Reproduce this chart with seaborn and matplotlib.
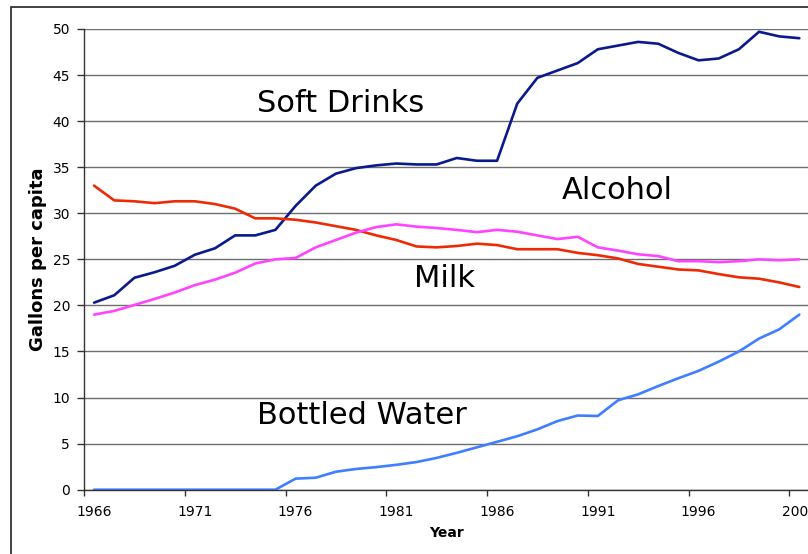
import matplotlib
matplotlib.use("Agg")
import matplotlib.pyplot as plt
from matplotlib.patches import Rectangle
import numpy as np
import pandas as pd
import seaborn as sns

# Per capita consumption, 1966-2001 (gallons)
years = list(range(1966, 2002))
soft_drinks = [20.3, 21.1, 23.0, 23.6, 24.3, 25.5, 26.2, 27.6, 27.6, 28.2,
               30.8, 33.0, 34.3, 34.9, 35.2, 35.4, 35.3, 35.3, 36.0, 35.7,
               35.7, 41.9, 44.7, 45.5, 46.3, 47.8, 48.2, 48.6, 48.4, 47.4,
               46.6, 46.8, 47.8, 49.7, 49.2, 49.0]
milk = [33.0, 31.4, 31.3, 31.1, 31.3, 31.3, 31.0, 30.5, 29.45, 29.45,
        29.3, 29.0, 28.6, 28.2, 27.6, 27.1, 26.4, 26.3, 26.45, 26.7,
        26.55, 26.1, 26.1, 26.1, 25.7, 25.45, 25.1, 24.5, 24.2, 23.9,
        23.8, 23.4, 23.05, 22.9, 22.5, 22.0]
alcohol = [19.0, 19.4, 20.05, 20.7, 21.4, 22.2, 22.8, 23.55, 24.55, 25.0,
           25.15, 26.3, 27.1, 27.9, 28.5, 28.8, 28.55, 28.4, 28.2, 27.95,
           28.2, 28.0, 27.6, 27.2, 27.45, 26.3, 25.95, 25.55, 25.35, 24.8,
           24.8, 24.7, 24.8, 25.0, 24.9, 25.0]
bottled_water = [0, 0, 0, 0, 0, 0, 0, 0, 0, 0,
                 1.2, 1.3, 1.95, 2.25, 2.45, 2.7, 3.0, 3.45, 4.0, 4.6,
                 5.2, 5.8, 6.55, 7.45, 8.05, 8.0, 9.7, 10.35, 11.25, 12.1,
                 12.9, 13.9, 15.0, 16.4, 17.4, 19.0]

series_names = ["Soft Drinks", "Milk", "Alcohol", "Bottled Water"]
colors = ["#0a1a8c", "#ee2a06", "#ff44ff", "#3f7fff"]

df = pd.DataFrame({"Year": years, "Soft Drinks": soft_drinks, "Milk": milk,
                   "Alcohol": alcohol, "Bottled Water": bottled_water})
long_df = df.melt(id_vars="Year", var_name="Drink", value_name="Gallons")

sns.set_style("white")
plt.rcParams['font.family'] = ['DejaVu Sans']
plt.rcParams['text.color'] = 'black'
plt.rcParams['axes.labelcolor'] = 'black'
plt.rcParams['xtick.labelcolor'] = 'black'
plt.rcParams['ytick.labelcolor'] = 'black'

W, H = 808, 554
fig = plt.figure(figsize=(W / 100, H / 100), dpi=100)
step = 20.15
ax = fig.add_axes([84 / W, (H - 489.7) / H, 36 * step / W, 460.7 / H])

sns.lineplot(data=long_df, x="Year", y="Gallons", hue="Drink",
             hue_order=series_names, palette=colors, linewidth=1.9,
             legend=False, ax=ax)

ax.set_xlim(1965.5, 2001.5)
ax.set_ylim(0, 50)
ax.set_yticks(np.arange(0, 51, 5))
ax.yaxis.grid(True, color="#6e6e6e", linewidth=1)
ax.set_axisbelow(True)

# category labels in the middle, tick marks at boundaries
label_years = years[::5]
ax.set_xticks(label_years)
ax.set_xticklabels([str(y) for y in label_years])
ax.tick_params(axis="x", which="major", length=0, pad=11, labelsize=10)
ax.set_xticks([y - 0.5 for y in label_years], minor=True)
ax.tick_params(axis="x", which="minor", length=4, width=1, color="#333333",
               direction="out", bottom=True)
ax.tick_params(axis="y", length=5, width=1, color="#333333", left=True,
               direction="out", pad=5, labelsize=10)

for side in ["top", "right"]:
    ax.spines[side].set_visible(False)
for side in ["left", "bottom"]:
    ax.spines[side].set_color("#333333")
    ax.spines[side].set_linewidth(1)

ax.set_xlabel("Year", fontsize=10, fontweight="bold", labelpad=5)
ax.set_ylabel("Gallons per capita", fontsize=13, fontweight="bold", labelpad=4)

# in-chart labels
ax.text(1974.1, 41.9, "Soft Drinks", fontsize=22, va="center")
ax.text(1989.2, 32.5, "Alcohol", fontsize=22, va="center")
ax.text(1981.9, 22.9, "Milk", fontsize=22, va="center")
ax.text(1974.1, 8.0, "Bottled Water", fontsize=22, va="center")

# chart-area border
fig.add_artist(Rectangle((10.5 / W, -0.1), 2, 1.1 - 7.3 / H,
                         transform=fig.transFigure, fill=False,
                         edgecolor="#222222", linewidth=1.2))

fig.savefig("out.png", dpi=100)
